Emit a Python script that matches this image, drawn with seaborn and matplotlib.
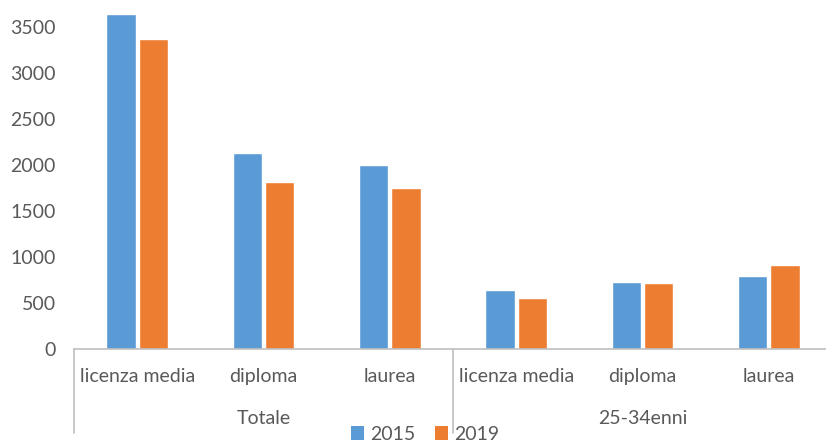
import matplotlib
matplotlib.use("Agg")
import matplotlib.pyplot as plt
import seaborn as sns
import pandas as pd
from matplotlib.patches import Patch

groups = ["Totale", "Totale", "Totale", "25-34enni", "25-34enni", "25-34enni"]
categories = ["licenza media", "diploma", "laurea", "licenza media", "diploma", "laurea"]
years = ["2015", "2019"]
values_2015 = [3638, 2134, 2000, 641, 732, 793]
values_2019 = [3373, 1818, 1747, 554, 717, 908]
yticks = [0, 500, 1000, 1500, 2000, 2500, 3000, 3500]

keys = [f"{g}|{c}" for g, c in zip(groups, categories)]
rows = []
for k, v in zip(keys, values_2015):
    rows.append({"key": k, "year": "2015", "value": v})
for k, v in zip(keys, values_2019):
    rows.append({"key": k, "year": "2019", "value": v})
df = pd.DataFrame(rows)

sns.set_theme(style="white")
plt.rcParams["font.family"] = ["Lato", "DejaVu Sans"]
text_col = "#595959"
line_col = "#BFBFBF"
colors = {"2015": "#5B9BD5", "2019": "#ED7D31"}
fs = 14

W, H = 826, 443
fig = plt.figure(figsize=(W / 100, H / 100), dpi=100)
ax_left, ax_right, ax_bottom, ax_top = 74, 832, 349, 0
ax = fig.add_axes([ax_left / W, 1 - ax_bottom / H, (ax_right - ax_left) / W, (ax_bottom - ax_top) / H])

sns.barplot(data=df, x="key", y="value", hue="year", order=keys, hue_order=years,
            palette=colors, width=0.515, gap=0.1, ax=ax, legend=False,
            errorbar=None, saturation=1)

ax.set_xlim(-0.5, len(keys) - 0.5)
ax.set_ylim(0, 349 / 0.092)
ax.set_yticks(yticks)
ax.set_yticklabels([str(t) for t in yticks])
ax.set_xticks(range(len(keys)))
ax.set_xticklabels(categories)
ax.set_xlabel("")
ax.set_ylabel("")
for s in ["top", "right", "left"]:
    ax.spines[s].set_visible(False)
ax.spines["bottom"].set_color(line_col)
ax.spines["bottom"].set_linewidth(1.2)
ax.tick_params(axis="y", length=0, pad=13, labelsize=fs, labelcolor=text_col)
ax.tick_params(axis="x", length=0, pad=14, labelsize=fs, labelcolor=text_col)

# hierarchical axis separators
trans = ax.get_xaxis_transform()
depth = -(433 - 349) / (349)
for xb in [-0.5, 2.5, 5.5]:
    ax.plot([xb, xb], [0, depth], transform=trans, color=line_col, lw=1.2, clip_on=False)
# group labels
ax.text(1, -(418 - 349) / 349, "Totale", transform=trans, ha="center", va="center",
        fontsize=fs, color=text_col)
ax.text(4, -(418 - 349) / 349, "25-34enni", transform=trans, ha="center", va="center",
        fontsize=fs, color=text_col)

handles = [Patch(facecolor=colors[y], edgecolor="none") for y in years]
fig.legend(handles, years, loc="center", bbox_to_anchor=(425 / W, 1 - 434 / H), ncol=2,
           frameon=False, fontsize=fs, handlelength=0.7, handleheight=0.7,
           handletextpad=0.3, columnspacing=1.0, labelcolor=text_col)

fig.savefig("out.png", dpi=100)
